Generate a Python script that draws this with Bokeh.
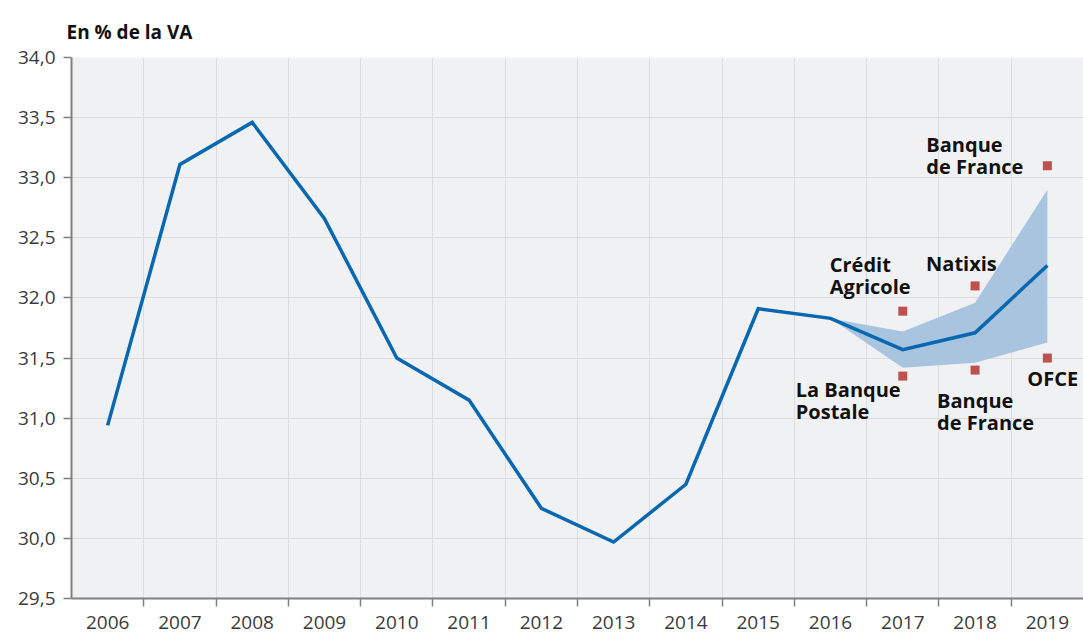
import numpy as np
from bokeh.plotting import figure
from bokeh.models import FixedTicker, Range1d, CustomJSTickFormatter, ColumnDataSource
from bokeh.core.properties import value
from bokeh.embed import file_html
from bokeh.resources import INLINE

# ---- data ----
years = [2006, 2007, 2008, 2009, 2010, 2011, 2012, 2013, 2014, 2015, 2016, 2017, 2018, 2019]
share = [30.94, 33.11, 33.46, 32.66, 31.50, 31.15, 30.25, 29.97, 30.45, 31.91, 31.83, 31.57, 31.71, 32.27]

band_years = [2016, 2017, 2018, 2019]
band_low = [31.83, 31.42, 31.46, 31.63]
band_high = [31.83, 31.72, 31.96, 32.90]

fc_years = [2017, 2017, 2018, 2018, 2019, 2019]
fc_values = [31.89, 31.35, 32.10, 31.40, 33.10, 31.50]
fc_names = ["Crédit\nAgricole", "La Banque\nPostale", "Natixis", "Banque\nde France", "Banque\nde France", "OFCE"]

y_ticks = [29.5, 30.0, 30.5, 31.0, 31.5, 32.0, 32.5, 33.0, 33.5, 34.0]
y_tick_labels = ["29,5", "30,0", "30,5", "31,0", "31,5", "32,0", "32,5", "33,0", "33,5", "34,0"]
x_tick_labels = [str(y) for y in years]

# ---- layout (pixels) for forecast labels: per label line (dx, dy) from its marker ----
label_layout = [
    [(-73, -47), (-73, -25)],
    [(-107, 13), (-107, 35)],
    [(-49, -22)],
    [(-38, 30), (-38, 52)],
    [(-121, -21), (-121, 1)],
    [(-20, 20)],
]

FONT = "Open Sans"
pos = {y: i + 0.5 for i, y in enumerate(years)}

p = figure(width=1083, height=633, output_backend="svg", toolbar_location=None,
           x_range=Range1d(0, len(years)), y_range=Range1d(y_ticks[0], y_ticks[-1]),
           min_border_left=71, min_border_right=0, min_border_top=57, min_border_bottom=35,
           background_fill_color="#f0f1f3", border_fill_color="white", outline_line_color=None)

p.title.text = "En % de la VA"
p.title.text_font = FONT
p.title.text_font_size = "19px"
p.title.text_font_style = "bold"
p.title.text_color = "#111111"
p.title.align = "left"
p.title.offset = -5
p.title.standoff = 26

# x axis: labels at category centres, tick marks at boundaries
centers = [pos[y] for y in years]
bounds = list(range(1, len(years)))
p.xaxis.ticker = FixedTicker(ticks=centers, minor_ticks=bounds)
p.xaxis.formatter = CustomJSTickFormatter(args=dict(xlabels=x_tick_labels),
                                          code="return xlabels[Math.floor(tick)];")
p.xaxis.major_tick_out = 0
p.xaxis.major_tick_in = 0
p.xaxis.minor_tick_out = 8
p.xaxis.minor_tick_in = 0
p.xaxis.major_label_standoff = 9

p.yaxis.ticker = FixedTicker(ticks=y_ticks, minor_ticks=[])
p.yaxis.formatter = CustomJSTickFormatter(args=dict(yt=y_ticks, ylabels=y_tick_labels),
                                          code="""
    for (let i = 0; i < yt.length; i++) { if (Math.abs(yt[i] - tick) < 1e-6) return ylabels[i]; }
    return '';""")
p.yaxis.major_tick_out = 8
p.yaxis.major_tick_in = 0
p.yaxis.major_label_standoff = 8

for ax in (p.xaxis, p.yaxis):
    ax.axis_line_color = "#808080"
    ax.axis_line_width = 2
    ax.major_tick_line_color = "#808080"
    ax.major_tick_line_width = 1.5
    ax.minor_tick_line_color = "#808080"
    ax.minor_tick_line_width = 1.5
    ax.major_label_text_font = FONT
    ax.major_label_text_font_size = "19px"
    ax.major_label_text_color = "#3a3a3a"

p.xgrid.grid_line_color = None
p.xgrid.minor_grid_line_color = "#dcdde0"
p.ygrid.grid_line_color = "#dcdde0"

# band
p.varea(x=[pos[y] for y in band_years], y1=band_low, y2=band_high, fill_color="#a9c4de")
# main line
p.line(x=centers, y=share, line_color="#0867b1", line_width=3.5, line_join="miter")
# forecasts
p.scatter(x=[pos[y] for y in fc_years], y=fc_values, marker="square", size=9,
          fill_color="#c0504f", line_color=None)

tx, ty, tt, tdx, tdy = [], [], [], [], []
for yr, v, name, lay in zip(fc_years, fc_values, fc_names, label_layout):
    for line, (dx, dy) in zip(name.split("\n"), lay):
        tx.append(pos[yr]); ty.append(v); tt.append(line); tdx.append(dx); tdy.append(dy)
src = ColumnDataSource(dict(x=tx, y=ty, text=tt, dx=tdx, dy=tdy))
p.text(x="x", y="y", text="text", x_offset="dx", y_offset="dy", source=src,
       text_font=value(FONT), text_font_size="20px", text_font_style="bold",
       text_color="#111111", text_align="left", text_baseline="alphabetic")

open("out.html", "w").write(file_html(p, INLINE))
